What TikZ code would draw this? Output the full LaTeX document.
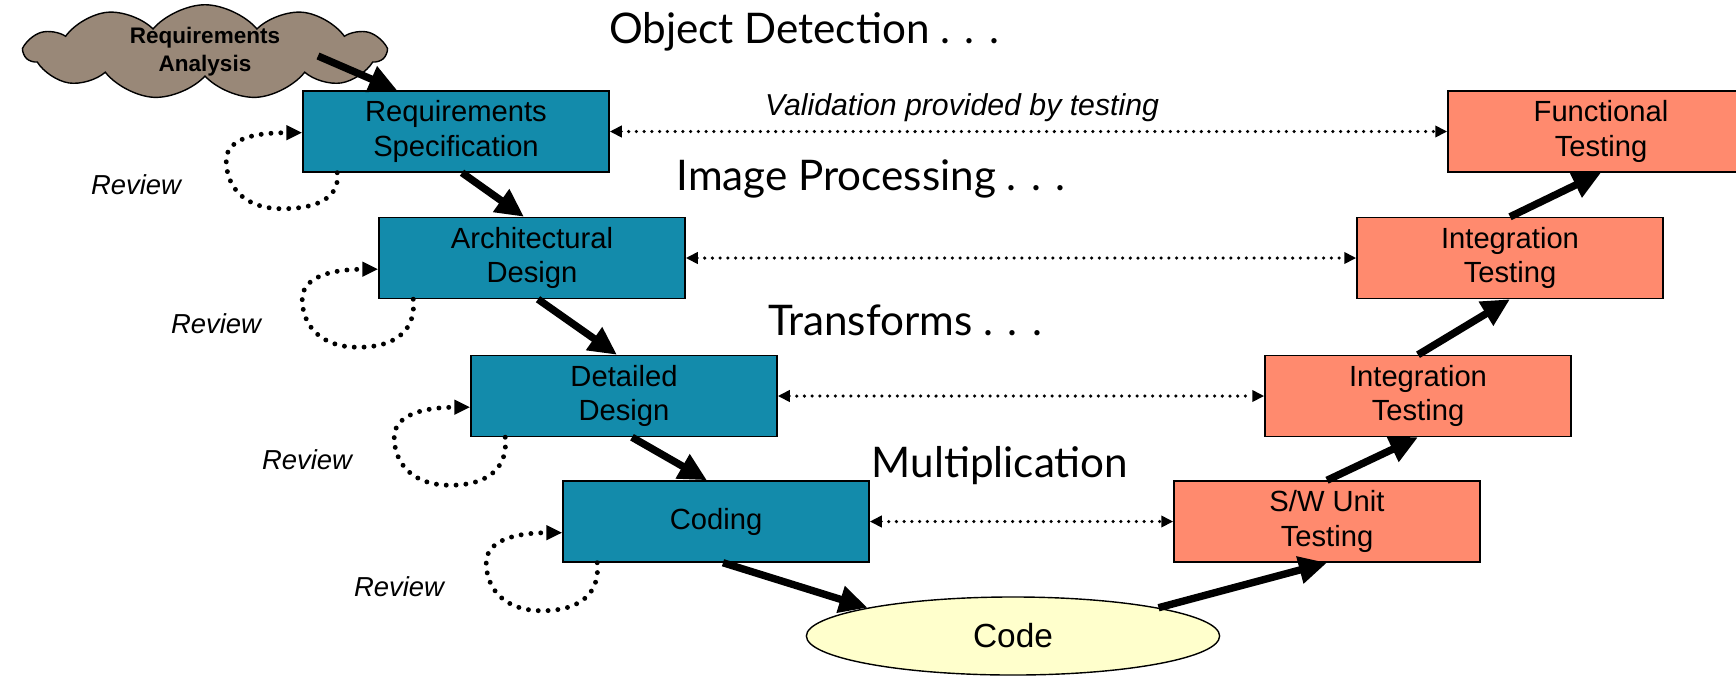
\documentclass[tikz,border=0pt]{standalone}
\usepackage{fontspec}
\setmainfont{Liberation Sans}
\newfontfamily\titlefont{Lato}
\usepackage{tikz}
\usetikzlibrary{
  arrows.meta,
  positioning,
  shapes.geometric,
  shapes.symbols,
  calc
}
\definecolor{vteal}{RGB}{19,139,171}
\definecolor{tsalmon}{RGB}{255,138,110}
\definecolor{cloudbrown}{RGB}{153,136,120}
\definecolor{codeyellow}{RGB}{255,255,204}
\newcommand\boxtextfont{\fontsize{8.3}{9.9}\selectfont}

\begin{document}
\begin{tikzpicture}[
            x=0.01cm, y=-0.01cm,
            vbox/.style={draw=black, fill=vteal, minimum width=3.06cm, minimum height=0.81cm, inner sep=0pt, align=center, font=\boxtextfont},
            tbox/.style={vbox, fill=tsalmon},
            stage/.style={anchor=base, font=\titlefont\fontsize{12}{14}\selectfont},
            review/.style={font=\itshape\fontsize{7.8}{9}\selectfont},
            flow/.style={line width=2.1pt, -{Triangle[length=8pt,width=7.5pt]}},
            trace/.style={line width=1pt, line cap=round, dash pattern=on 0pt off 2.2pt, {Triangle[length=3.4pt,width=3.2pt]}-{Triangle[length=3.4pt,width=3.2pt]}},
            reviewloop/.style={line width=1.4pt, line cap=round, dash pattern=on 0pt off 2.8pt, -{Triangle[length=4.5pt,width=4pt]}}
        ]
            \clip (0,0) rectangle (1736,675);
            % analysis cloud
            \node[cloud, cloud puffs=11, cloud puff arc=100, cloud ignores aspect, draw=black, fill=cloudbrown, minimum width=3.6cm, minimum height=0.72cm, inner sep=0pt, align=center, font=\bfseries\fontsize{6.4}{8}\selectfont] (analysis) at (205,52) {
                Requirements\\Analysis
            };
            % left leg
            \node[vbox] (reqspec) at (456,131.5) {Requirements\\Specification};
            \node[vbox] (arch) at (532,258) {Architectural\\Design};
            \node[vbox] (detail) at (624,396) {Detailed\\Design};
            \node[vbox] (coding) at (716,521.5) {Coding};
            % bottom
            \node[ellipse, draw=black, fill=codeyellow, minimum width=4.13cm, minimum height=0.78cm, inner sep=0pt, font=\fontsize{9.5}{11}\selectfont] (code) at (1013,636) {Code};
            % right leg
            \node[tbox] (unit) at (1327,521.5) {S/W Unit\\Testing};
            \node[tbox] (intlow) at (1418,396) {Integration\\Testing};
            \node[tbox] (intup) at (1510,258) {Integration\\Testing};
            \node[tbox] (func) at (1601,131.5) {Functional\\Testing};
            % stage titles
            \node[stage] (objdet) at (804,43) {Object Detection . . .};
            \node[stage] (imgproc) at (871,190) {Image Processing . . .};
            \node[stage] (transf) at (905,335) {Transforms . . .};
            \node[stage] (mult) at (1000,477) {Multiplication};
            \node[review, anchor=base, font=\itshape\fontsize{8.6}{10}\selectfont] (valtext) at (962,115) {Validation provided by testing};
            % review labels
            \node[review] (rev1) at (136,185) {Review};
            \node[review] (rev2) at (216,324) {Review};
            \node[review] (rev3) at (307,460) {Review};
            \node[review] (rev4) at (399,587) {Review};
            % validation links
            \draw[trace] (reqspec.east) -- (func.west);
            \draw[trace] (arch.east) -- (intup.west);
            \draw[trace] (detail.east) -- (intlow.west);
            \draw[trace] (coding.east) -- (unit.west);
            % review loops
            \foreach \b/\ya/\yb/\yc in {reqspec/-40/36/-12, arch/-30/48/0, detail/-30/48/0, coding/-30/48/0} {
                \begin{scope}[shift={(\b.south west)}]
                    \draw[reviewloop] (35,0) .. controls (38,{0.6*\yb}) and (20,\yb) .. (-20,\yb)
                        .. controls (-60,\yb) and (-76,{\yc+0.5*(\yb-\yc)}) .. (-76,\yc)
                        .. controls (-76,{\yc-25}) and (-40,\ya) .. (0,\ya);
                \end{scope}
            }
            % the V
            \draw[flow] ($(analysis.center)+(113,4)$) -- ($(reqspec.north west)+(95,0)$);
            \draw[flow] ($(reqspec.south)+(6,0)$) -- ($(arch.north)+(-8,0)$);
            \draw[flow] ($(arch.south)+(6,0)$) -- ($(detail.north)+(-7,0)$);
            \draw[flow] ($(detail.south)+(8,0)$) -- ($(coding.north)+(-9,0)$);
            \draw[flow] ($(coding.south)+(7,0)$) -- (code.169);
            \draw[flow] (code.11) -- (unit.south);
            \draw[flow] (unit.north) -- (intlow.south);
            \draw[flow] (intlow.north) -- (intup.south);
            \draw[flow] (intup.north) -- (func.south);
        \end{tikzpicture}
\end{document}
